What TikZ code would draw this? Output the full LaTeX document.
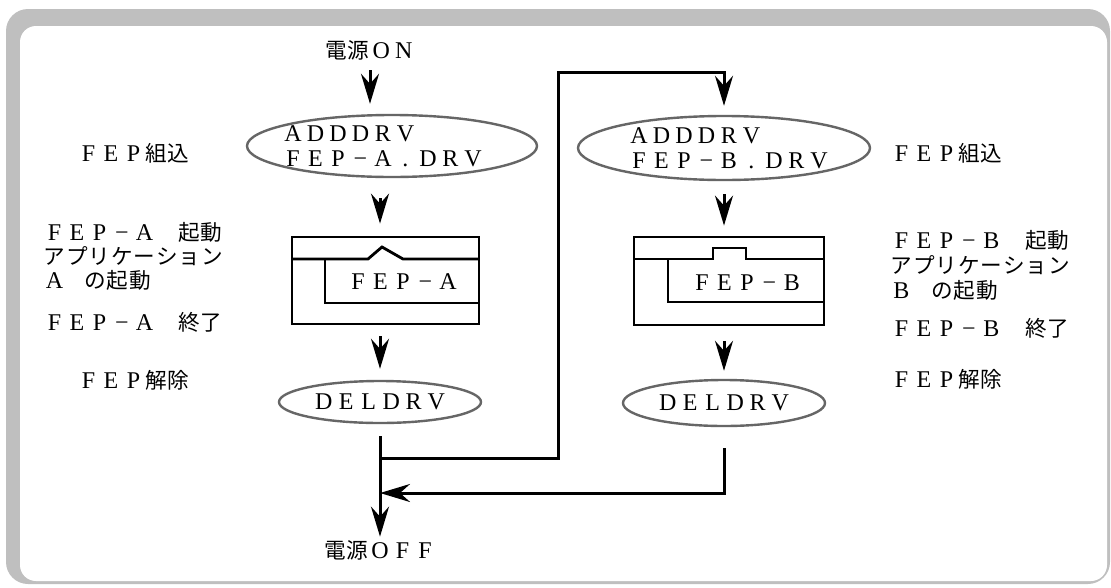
\documentclass[tikz,border=0pt]{standalone}
\usepackage{fontspec}
\setmainfont{Liberation Serif}
\newfontfamily\jpfont[Scale=0.9]{Noto Sans CJK JP}
\usetikzlibrary{arrows.meta,positioning,calc,shapes.geometric}

\newlength\cellw
\setlength\cellw{22.5pt}
\def\grid#1{\gridaux#1\relax}
\def\gridaux#1{\ifx\relax#1\else\makebox[\cellw]{\ifnum`#1>"2FFF \jpfont\fi#1}\expandafter\gridaux\fi}

\begin{document}
\begin{tikzpicture}[x=1pt,y=-1pt,font=\fontsize{24}{25}\selectfont,
    link/.style={line width=3pt},
    flow/.style={link,-{Stealth[length=30pt,width=18pt,inset=10pt]}},
    drv/.style={draw=black!60,line width=2.4pt,ellipse,inner sep=0pt},
    panel/.style={draw,line width=2.8pt,inner sep=0pt},
    lbl/.style={anchor=west,inner sep=0pt}]
    \useasboundingbox (0,0) rectangle (1111,587);
    % frame
    \fill[black!25,rounded corners=22pt] (6,9) rectangle (1110,584);
    \fill[white,rounded corners=16pt] (20,26) rectangle (1107,581);

    % left chain
    \node (pwon) at (370,50) {\grid{電源ON}};
    \node[drv,minimum width=290pt,minimum height=62pt] (addA) at (392,146) {};
    \node[align=left,inner sep=0pt] (addAtxt) at ([xshift=-9pt]addA.center) {\grid{ADDDRV}\\\grid{FEP−A.DRV}};
    \node[panel,minimum width=187pt,minimum height=87pt] (boxA) at (385.5,280.5) {};
    \node (nameA) at (403,282) {\grid{FEP−A}};
    \node[drv,minimum width=202pt,minimum height=42pt] (delA) at (380,402) {\grid{DELDRV}};
    \node (pwoff) at (380,550) {\grid{電源OFF}};

    % right chain
    \node[drv,minimum width=292pt,minimum height=64pt] (addB) at (724,148) {};
    \node[align=left,inner sep=0pt] (addBtxt) at ([xshift=5pt]addB.center) {\grid{ADDDRV}\\\grid{FEP−B.DRV}};
    \node[panel,minimum width=190pt,minimum height=88pt] (boxB) at (729,281) {};
    \node (nameB) at (747,283) {\grid{FEP−B}};
    \node[drv,minimum width=202pt,minimum height=46pt] (delB) at (724,403) {\grid{DELDRV}};

    % screens
    \draw[link,line width=2.8pt] (292,259) -- (368,259) -- (382,247) -- (403,259) -- (479,259);
    \draw[link,line width=2.8pt] (325,259) -- (325,303) -- (479,303);
    \draw[link,line width=2.8pt] (634,259) -- (713,259) -- (713,248) -- (746,248) -- (746,259) -- (824,259);
    \draw[link,line width=2.8pt] (668,259) -- (668,302) -- (824,302);

    \coordinate (splitA) at (380,458);
    \coordinate (loopTL) at (558,72);
    \coordinate (joinA) at (380,493);

    \draw[flow,shorten <=7pt,shorten >=10pt] (pwon) -- (pwon |- addA.north);
    \draw[flow,shorten <=20pt,shorten >=12pt] (addA.south -| delA) -- (boxA.north -| delA);
    \draw[flow,shorten <=11pt,shorten >=11pt] (boxA.south -| delA) -- (delA.north);
    \draw[flow,shorten <=12pt] (delA.south) -- (pwoff.north);
    \draw[flow,shorten >=9pt] (splitA) -| (loopTL) -| (addB.north);
    \draw[flow,shorten <=13pt,shorten >=10pt] (addB.south) -- (boxB.north -| addB);
    \draw[flow,shorten <=15pt,shorten >=8pt] (boxB.south -| addB) -- (delB.north);
    \draw[flow,shorten <=21pt] (delB.south) |- (joinA);

    % notes left
    \node[lbl] (inA) at (77,153) {\grid{FEP組込}};
    \node[lbl] (runA) at (43,232) {\grid{FEP−A}\hspace{22pt}\grid{起動}};
    \node[lbl] (appA) at (43,256) {\grid{アプリケーション}};
    \node[lbl] (appA2) at (43,280) {\grid{A}\hspace{18pt}\grid{の起動}};
    \node[lbl] (endA) at (43,322) {\grid{FEP−A}\hspace{22pt}\grid{終了}};
    \node[lbl] (outA) at (77,380) {\grid{FEP解除}};
    % notes right
    \node[lbl] (inB) at (890,153) {\grid{FEP組込}};
    \node[lbl] (runB) at (890,240) {\grid{FEP−B}\hspace{22pt}\grid{起動}};
    \node[lbl] (appB) at (890,265) {\grid{アプリケーション}};
    \node[lbl] (appB2) at (890,290) {\grid{B}\hspace{18pt}\grid{の起動}};
    \node[lbl] (endB) at (890,328) {\grid{FEP−B}\hspace{22pt}\grid{終了}};
    \node[lbl] (outB) at (890,379) {\grid{FEP解除}};
\end{tikzpicture}
\end{document}
